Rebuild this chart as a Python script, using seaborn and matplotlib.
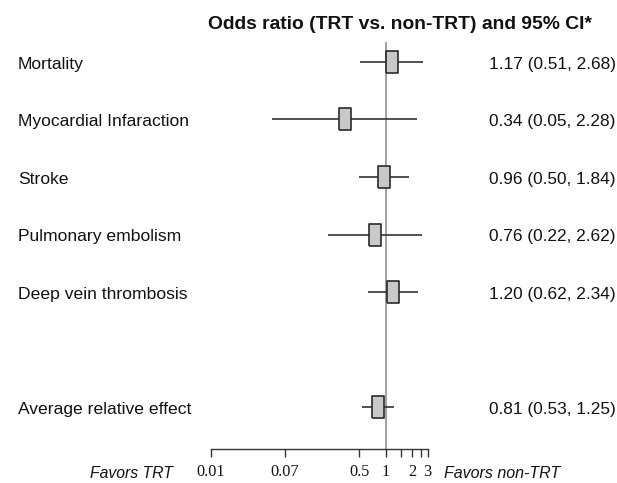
import matplotlib
matplotlib.use("Agg")
import matplotlib.pyplot as plt
import matplotlib.transforms as mtransforms
import seaborn as sns
import pandas as pd
import numpy as np

# data
outcomes = ["Mortality", "Myocardial Infaraction", "Stroke",
            "Pulmonary embolism", "Deep vein thrombosis",
            "Average relative effect"]
odds_ratio = [1.17, 0.34, 0.96, 0.76, 1.20, 0.81]
ci_low = [0.51, 0.05, 0.50, 0.22, 0.62, 0.53]
ci_high = [2.68, 2.28, 1.84, 2.62, 2.34, 1.25]
tick_values = [0.01, 0.07, 0.5, 1, 1.5, 2, 2.5, 3]
tick_labels = ["0.01", "0.07", "0.5", "1", "", "2", "", "3"]

# layout: one blank row before the pooled estimate
rows = [0, 1, 2, 3, 4, 6]

df = pd.DataFrame({"outcome": outcomes, "or": odds_ratio,
                   "lo": ci_low, "hi": ci_high, "row": rows})

sns.set_theme(style="white")
plt.rcParams["font.family"] = ["Liberation Sans", "DejaVu Sans"]

fig = plt.figure(figsize=(6.17, 4.83), dpi=100)
ax = fig.add_axes([0.3413, 0.0704, 0.3517, 0.8427])

ax.set_xscale("log")
ax.set_xlim(0.01, 3)
ax.set_ylim(6.730, -0.348)

# reference line at OR = 1
ax.axvline(1, color="#909090", lw=1.2, zorder=1)

# confidence intervals
ax.hlines(df["row"], df["lo"], df["hi"], color="#333333", lw=1.2, zorder=2)

# point estimates as upright grey boxes
box = [(-0.27, -0.5), (0.27, -0.5), (0.27, 0.5), (-0.27, 0.5), (-0.27, -0.5)]
sns.scatterplot(data=df, x="or", y="row", marker=box, s=250,
                color="#c8c8c8", edgecolor="#2a2a2a", linewidth=1.2,
                zorder=3, ax=ax, legend=False)

# axes styling
for side in ["top", "right", "left"]:
    ax.spines[side].set_visible(False)
ax.spines["bottom"].set_color("#333333")
ax.spines["bottom"].set_linewidth(1.0)
ax.set_yticks([])
ax.set_xticks(tick_values)
ax.set_xticklabels(tick_labels, family="Liberation Serif", fontsize=11.7,
                   color="#111111")
ax.xaxis.set_minor_locator(matplotlib.ticker.NullLocator())
ax.tick_params(axis="x", which="major", direction="out", length=5.8,
               width=1.0, color="#333333", pad=5, bottom=True)
ax.set_xlabel("")
ax.set_ylabel("")

# row labels and values
trans = mtransforms.blended_transform_factory(fig.transFigure, ax.transData)
for _, r in df.iterrows():
    ax.text(0.0292, r["row"] + 0.115, r["outcome"], transform=trans,
            ha="left", va="baseline", fontsize=12.6, color="#111111")
    ax.text(0.7925, r["row"] + 0.115,
            f"{r['or']:.2f} ({r['lo']:.2f}, {r['hi']:.2f})", transform=trans,
            ha="left", va="baseline", fontsize=12.4, color="#111111")

fig.text(0.649, 0.94, "Odds ratio (TRT vs. non-TRT) and 95% CI*",
         ha="center", va="baseline", fontsize=13.9, fontweight="bold",
         color="#111111")
fig.text(0.280, 0.0110, "Favors TRT", ha="right", va="baseline",
         fontsize=11.3, style="italic", color="#111111")
fig.text(0.7195, 0.0110, "Favors non-TRT", ha="left", va="baseline",
         fontsize=11.5, style="italic", color="#111111")

fig.savefig("out.png", dpi=100)
